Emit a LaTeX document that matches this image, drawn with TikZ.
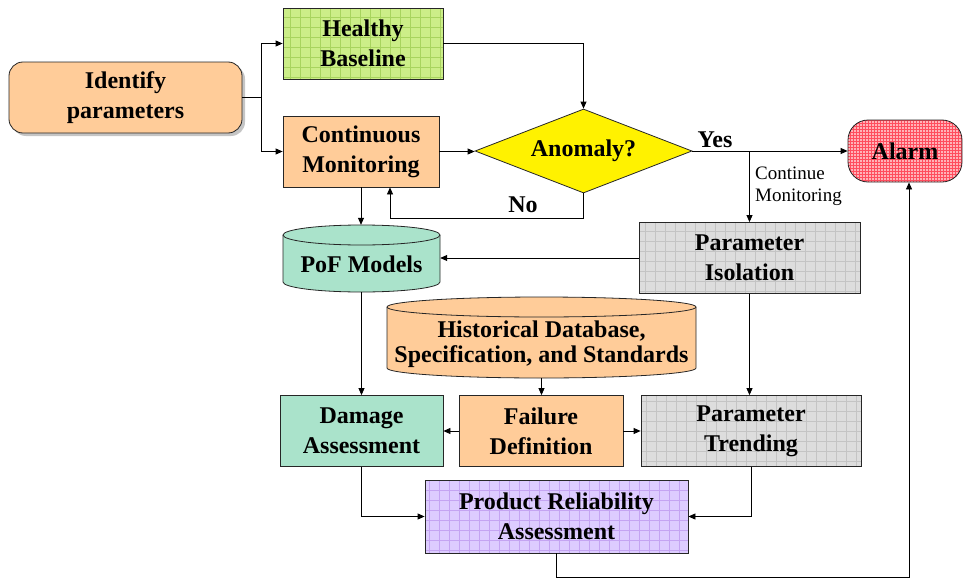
\documentclass[tikz,border=0pt]{standalone}
\usepackage{fontspec}
\setmainfont{Liberation Serif}
\usetikzlibrary{arrows.meta,shapes.geometric,shadows}
\definecolor{peach}{HTML}{FFCC99}
\definecolor{hgreen}{HTML}{CCEE88}
\definecolor{hgreenl}{HTML}{A8D45E}
\definecolor{mint}{HTML}{AAE3CB}
\definecolor{lgray}{HTML}{DDDDDD}
\definecolor{lgrayl}{HTML}{C4C4C4}
\definecolor{lav}{HTML}{DDCCFF}
\definecolor{lavl}{HTML}{C4A4F2}
\definecolor{pinkf}{HTML}{FFB3B8}
\definecolor{pinkl}{HTML}{FF4D5E}
\newcommand\bfnt{\fontsize{24}{30}\selectfont\bfseries}
\newcommand\smfnt{\fontsize{19}{22}\selectfont}
\begin{document}
\begin{tikzpicture}[x=1pt,y=-1pt,
  box/.style={draw=black!85, line width=0.8pt, align=center, font=\bfnt, inner sep=0pt},
  gridded/.style n args={3}{fill=#1, path picture={\draw[#2, line width=0.4pt] (path picture bounding box.south west) grid[step=#3] (path picture bounding box.north east);}},
  ln/.style={line width=0.8pt, draw=black},
  arr/.style={ln, -{Triangle[length=7pt,width=6pt]}},
  cyl/.style={draw=black!85, line width=0.8pt},
  lbl/.style={font=\bfnt, inner sep=0pt}]
\useasboundingbox (0,0) rectangle (965,578);

% boxes
\node[box, fill=peach, rounded corners=14pt, minimum width=233pt, minimum height=71pt,
      drop shadow={shadow xshift=3pt, shadow yshift=-3pt, fill=black!45}] (ip) at (125.5,97.5) {Identify\\parameters};
\node[box, gridded={hgreen}{hgreenl}{10pt}, minimum width=160pt, minimum height=71pt] (hb) at (363,43.5) {Healthy\\Baseline};
\node[box, fill=peach, minimum width=156pt, minimum height=71pt] (cm) at (361,151.5) {Continuous\\Monitoring};
\node[box, diamond, fill=yellow, minimum width=217pt, minimum height=84pt, aspect=2.58] (an) at (583.5,151) {Anomaly?};
\node[box, gridded={pinkf}{pinkl}{3pt}, rounded corners=20pt, minimum width=114pt, minimum height=62pt] (al) at (905,151) {Alarm};
\node[box, gridded={lgray}{lgrayl}{10pt}, minimum width=221pt, minimum height=71pt] (pi) at (749.5,258) {Parameter\\Isolation};
\node[box, fill=mint, minimum width=163pt, minimum height=71pt] (da) at (361.5,431) {Damage\\Assessment};
\node[box, fill=peach, minimum width=164pt, minimum height=71pt] (fd) at (541,431) {Failure\\Definition};
\node[box, gridded={lgray}{lgrayl}{10pt}, minimum width=220pt, minimum height=71pt] (pt) at (751,431) {Parameter\\Trending};
\node[box, gridded={lav}{lavl}{10pt}, minimum width=263pt, minimum height=73pt] (pra) at (556.5,516.5) {Product Reliability\\Assessment};

% PoF Models cylinder
\filldraw[cyl, fill=mint] (283,235) -- (283,282) arc[start angle=180, end angle=360, x radius=78.5pt, y radius=10pt]
  -- (440,235) arc[start angle=0, end angle=180, x radius=78.5pt, y radius=10pt] -- cycle;
\draw[cyl] (283,235) arc[start angle=180, end angle=360, x radius=78.5pt, y radius=10pt];
\node[inner sep=0pt, minimum width=157pt, minimum height=67pt] (pof) at (361.5,258.5) {};
\node[lbl] (poft) at (361.5,264) {PoF Models};

% Historical database cylinder
\filldraw[cyl, fill=peach] (387,307) -- (387,368) arc[start angle=180, end angle=360, x radius=154.5pt, y radius=10pt]
  -- (696,307) arc[start angle=0, end angle=180, x radius=154.5pt, y radius=10pt] -- cycle;
\draw[cyl] (387,307) arc[start angle=180, end angle=360, x radius=154.5pt, y radius=10pt];
\node[inner sep=0pt, minimum width=309pt, minimum height=81pt] (hist) at (541.5,337.5) {};
\node[lbl, align=center] (histt) at (541.5,344) {Historical Database,\\[-5pt]Specification, and Standards};

% labels
\node[lbl] (yes) at (715,140) {Yes};
\node[lbl] (no) at (523,205) {No};
\node[font=\smfnt, align=left, anchor=west, inner sep=0pt] (cont) at (755,186) {Continue\\Monitoring};

% connectors
\draw[arr] (ip.east) -- ++(19,0) |- (hb.west);
\draw[arr] (ip.east) ++(19,0) |- (cm.west);
\draw[arr] (hb.east) -| (an.north);
\draw[arr] (cm.east) -- (cm.east -| an.west);
\draw[arr] (an.east) -- (al.west);
\draw[arr] (an.east -| pi.north) -- (pi.north);
\draw[arr] (an.south) -- ++(0,25) -| ([xshift=29pt]cm.south);
\draw[arr] (cm.south) -- (cm.south |- pof.north);
\draw[arr] (pi.west) -- (pi.west -| pof.east);
\draw[arr] (pof.south) -- (pof.south |- da.north);
\draw[arr] (hist.south) -- (hist.south |- fd.north);
\draw[arr] (pi.south) -- (pi.south |- pt.north);
\draw[arr] (fd.west) -- (da.east);
\draw[arr] (fd.east) -- (pt.west);
\draw[arr] (da.south) |- (pra.west);
\draw[arr] (pt.south) |- (pra.east);
\draw[arr] (pra.south) -- ++(0,24) -| ([xshift=4pt]al.south);
\end{tikzpicture}
\end{document}
